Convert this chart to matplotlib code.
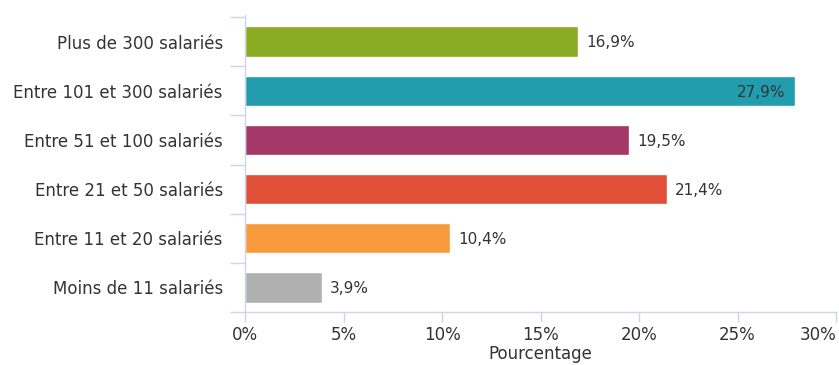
import matplotlib
matplotlib.use("Agg")
import matplotlib.pyplot as plt
from matplotlib.ticker import FixedLocator

plt.rcParams['font.family'] = ['DejaVu Sans']

# --- data -------------------------------------------------------------------
categories = ["Moins de 11 salariés", "Entre 11 et 20 salariés",
              "Entre 21 et 50 salariés", "Entre 51 et 100 salariés",
              "Entre 101 et 300 salariés", "Plus de 300 salariés"]
values = [3.9, 10.4, 21.4, 19.5, 27.9, 16.9]
colors = ["#b0b0b0", "#f99b3c", "#e05038", "#a33768", "#229dae", "#8aac24"]
xticks = [0, 5, 10, 15, 20, 25, 30]
# ---------------------------------------------------------------------------

text_col = "#333333"
axis_col = "#ccd6eb"

fig = plt.figure(figsize=(8.39, 3.65), dpi=100)
ax = fig.add_axes([245 / 839, 1 - 312 / 365, 591 / 839, 295 / 365])

y = list(range(len(categories)))
ax.barh(y, values, height=0.62, color=colors, edgecolor="white", linewidth=1)

for yi, v in zip(y, values):
    lab = f"{v:.1f}%".replace(".", ",")
    if v > 27:
        ax.annotate(lab, (v, yi), xytext=(-7, -1), textcoords="offset points",
                    ha="right", va="center", fontsize=11, color=text_col)
    else:
        ax.annotate(lab, (v, yi), xytext=(6, -1), textcoords="offset points",
                    ha="left", va="center", fontsize=11, color=text_col)

ax.set_xlim(0, 30)
ax.set_ylim(-0.5, len(categories) - 0.5)
ax.set_xticks(xticks)
ax.set_xticklabels([f"{t}%" for t in xticks], fontsize=12, color=text_col)
ax.get_xticklabels()[-1].set_horizontalalignment("right")
ax.set_yticks(y)
ax.set_yticklabels(categories, fontsize=12, color=text_col)
ax.yaxis.set_minor_locator(FixedLocator([i - 0.5 for i in range(len(categories) + 1)]))

ax.tick_params(axis="y", which="major", length=0, pad=16)
ax.tick_params(axis="y", which="minor", length=11, color=axis_col, width=1)
ax.tick_params(axis="x", length=7, color=axis_col, width=1, pad=3)

for side in ["top", "right"]:
    ax.spines[side].set_visible(False)
for side in ["left", "bottom"]:
    ax.spines[side].set_color(axis_col)
    ax.spines[side].set_linewidth(1)
ax.spines["left"].set_bounds(-0.55, 5.55)

ax.set_xlabel("Pourcentage", fontsize=12, color=text_col, labelpad=1)

fig.savefig("out.png", dpi=100)
